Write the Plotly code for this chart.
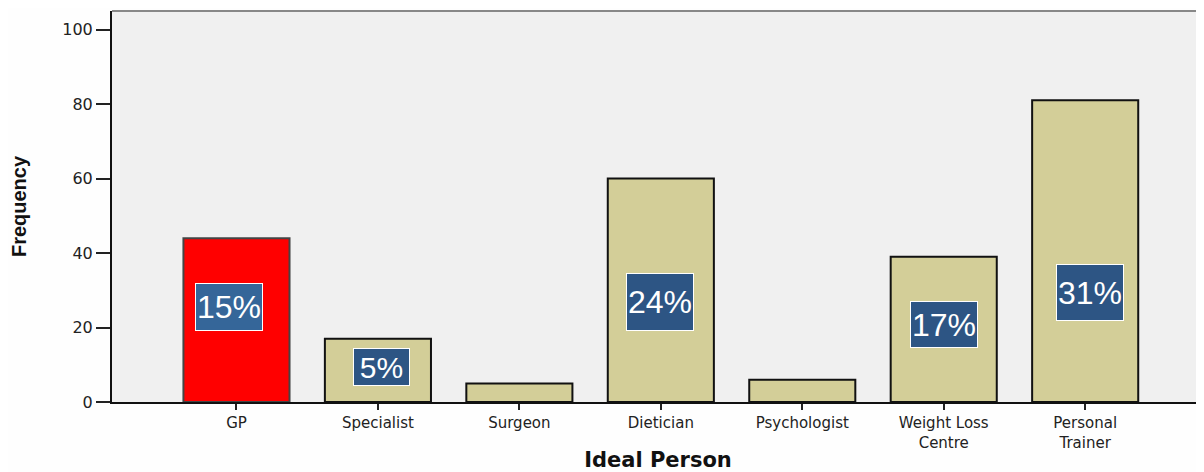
import plotly.graph_objects as go

categories = ["GP", "Specialist", "Surgeon", "Dietician", "Psychologist",
              "Weight Loss Centre", "Personal Trainer"]
tick_labels = ["GP", "Specialist", "Surgeon", "Dietician", "Psychologist",
               "Weight Loss<br>Centre", "Personal<br>Trainer"]
frequency = [44, 17, 5, 60, 6, 39, 81]

pct_categories = ["GP", "Specialist", "Dietician", "Weight Loss Centre", "Personal Trainer"]
pct_labels = ["15%", "5%", "24%", "17%", "31%"]
pct_y = [25.6, 9.3, 26.9, 20.7, 29.5]

y_ticks = [0, 20, 40, 60, 80, 100]

fill = ["#ff0000" if c == "GP" else "#d3ce98" for c in categories]
edge = ["#444444" if c == "GP" else "#111111" for c in categories]

fig = go.Figure()
fig.add_trace(go.Bar(
    x=categories, y=frequency, width=0.75,
    marker=dict(color=fill, line=dict(color=edge, width=2)),
    hoverinfo="skip",
))

# label box styling (position offsets in px)
box_style = {
    "GP": dict(xshift=-7, w=66, h=46, size=32, bg="#356699"),
    "Specialist": dict(xshift=4, w=55, h=36, size=30, bg="#2d5584"),
    "Dietician": dict(xshift=-1, w=66, h=56, size=32, bg="#2d5584"),
    "Weight Loss Centre": dict(xshift=0, w=66, h=45, size=32, bg="#2d5584"),
    "Personal Trainer": dict(xshift=5, w=66, h=55, size=32, bg="#2d5584"),
}
for c, t, yv in zip(pct_categories, pct_labels, pct_y):
    s = box_style[c]
    fig.add_annotation(
        x=c, y=yv, xref="x", yref="y", text=t, showarrow=False,
        xshift=s["xshift"], width=s["w"], height=s["h"],
        bgcolor=s["bg"], bordercolor="white", borderwidth=1, borderpad=0,
        font=dict(family="Liberation Sans, Arial, sans-serif", size=s["size"], color="white"),
        align="center", valign="middle",
    )

# page body has an 8px margin; compensate so the plot lands where the reference has it
fig.update_layout(
    width=1196, height=464,
    margin=dict(l=103, r=0, t=3, b=67),
    paper_bgcolor="#fefefe", plot_bgcolor="#f0f0f0",
    showlegend=False,
    bargap=0.25,
)
fig.update_xaxes(
    type="category", categoryorder="array", categoryarray=categories,
    tickvals=categories, ticktext=tick_labels,
    range=[-0.88, 6.84],
    showline=True, linecolor="#111111", linewidth=2,
    ticks="outside", ticklen=6, tickwidth=2, tickcolor="#222222",
    tickfont=dict(family="DejaVu Sans, Arial, sans-serif", size=15, color="#222222"),
    showgrid=False, zeroline=False,
    title=dict(text="<b>Ideal Person</b>", standoff=6,
               font=dict(family="DejaVu Sans, Arial, sans-serif", size=21, color="#111111")),
)
fig.update_yaxes(
    range=[0, 105], tickvals=y_ticks,
    showline=True, linecolor="#111111", linewidth=2,
    ticks="outside", ticklen=14, tickwidth=2, tickcolor="#222222",
    tickfont=dict(family="DejaVu Sans, Arial, sans-serif", size=16, color="#222222"),
    showgrid=False, zeroline=False,
    title=dict(text="<b>Frequency</b>", standoff=40,
               font=dict(family="Liberation Sans Narrow, Arial Narrow, Liberation Sans, sans-serif",
                         size=20, color="#111111")),
)
# grey top border of plot area
fig.add_shape(type="line", xref="paper", yref="paper", x0=0, x1=1, y0=1, y1=1,
              line=dict(color="#888888", width=2))

fig.write_html("out.html")
